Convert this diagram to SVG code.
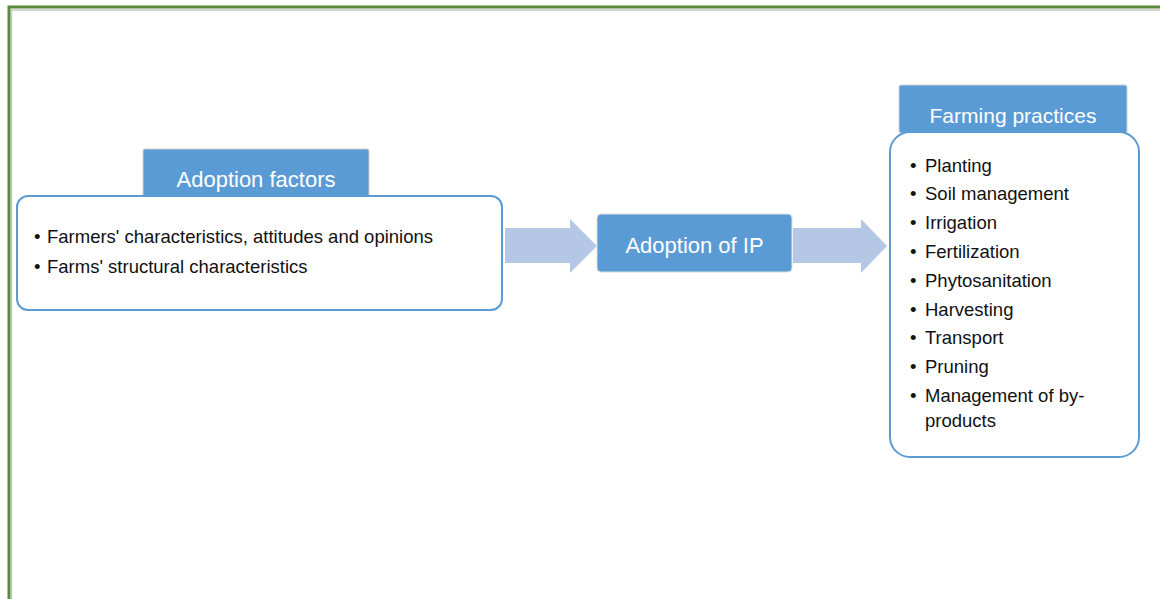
<svg xmlns="http://www.w3.org/2000/svg" width="1160" height="599" viewBox="0 0 1160 599">
<defs>
<style>
.frame{fill:none;stroke:#5B8A3A;stroke-width:3}
.shadow{fill:none;stroke:#C8C8C8;stroke-width:1.5}
.tab{fill:#5B9BD5;stroke:#D0D0D0;stroke-width:1}
.box{fill:#FFFFFF;stroke:#5B9BD5;stroke-width:2}
.arrow{fill:#B4C8E6}
.title{font-family:"Liberation Sans",Arial,sans-serif;fill:#FFFFFF;text-anchor:middle}
.item{font-family:"Liberation Sans",Arial,sans-serif;fill:#111111;font-size:18.5px}
</style>
</defs>
<rect x="0" y="0" width="1160" height="599" fill="#FFFFFF"/>
<polyline class="shadow" points="11.5,599 11.5,10 1160,10"/>
<polyline class="frame" points="9,599 9,7 1160,7"/>

<g id="connectors">
<polygon class="arrow" points="505,228 570,228 570,219 597,246 570,273 570,263 505,263"/>
<polygon class="arrow" points="793,228 861,228 861,219 887,246 861,273 861,263 793,263"/>
</g>

<g id="adoption-factors">
<rect class="tab" x="143" y="149" width="226" height="48" rx="2"/>
<rect class="box" x="17" y="196" width="485" height="114" rx="11"/>
<text class="title" x="256" y="187" font-size="22">Adoption factors</text>
<text class="item" x="34" y="243">•</text>
<text class="item" x="47" y="243">Farmers' characteristics, attitudes and opinions</text>
<text class="item" x="34" y="273">•</text>
<text class="item" x="47" y="273">Farms' structural characteristics</text>
</g>

<g id="adoption-ip">
<rect class="tab" x="597" y="214" width="195" height="58" rx="4" style="stroke:#E0E0E0"/>
<text class="title" x="694.5" y="253" font-size="22">Adoption of IP</text>
</g>

<g id="farming-practices">
<rect class="tab" x="899" y="85" width="228" height="48" rx="2"/>
<rect class="box" x="890" y="132" width="249" height="325" rx="20"/>
<text class="title" x="1013" y="123" font-size="21">Farming practices</text>
<g class="item">
<text x="910" y="172">•</text><text x="925" y="172">Planting</text>
<text x="910" y="200">•</text><text x="925" y="200">Soil management</text>
<text x="910" y="229">•</text><text x="925" y="229">Irrigation</text>
<text x="910" y="258">•</text><text x="925" y="258">Fertilization</text>
<text x="910" y="287">•</text><text x="925" y="287">Phytosanitation</text>
<text x="910" y="316">•</text><text x="925" y="316">Harvesting</text>
<text x="910" y="344">•</text><text x="925" y="344">Transport</text>
<text x="910" y="373">•</text><text x="925" y="373">Pruning</text>
<text x="910" y="402">•</text><text x="925" y="402">Management of by-</text>
<text x="925" y="427">products</text>
</g>
</g>
</svg>
